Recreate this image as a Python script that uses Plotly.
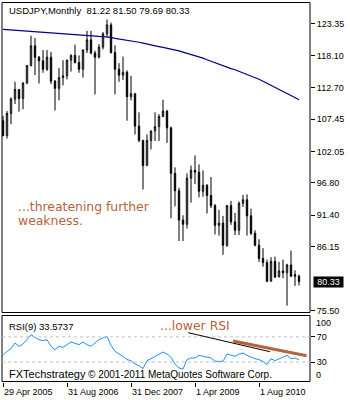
import plotly.graph_objects as go

months = [
    "2005-04","2005-05","2005-06","2005-07","2005-08","2005-09","2005-10","2005-11","2005-12",
    "2006-01","2006-02","2006-03","2006-04","2006-05","2006-06","2006-07","2006-08","2006-09","2006-10","2006-11","2006-12",
    "2007-01","2007-02","2007-03","2007-04","2007-05","2007-06","2007-07","2007-08","2007-09","2007-10","2007-11","2007-12",
    "2008-01","2008-02","2008-03","2008-04","2008-05","2008-06","2008-07","2008-08","2008-09","2008-10","2008-11","2008-12",
    "2009-01","2009-02","2009-03","2009-04","2009-05","2009-06","2009-07","2009-08","2009-09","2009-10","2009-11","2009-12",
    "2010-01","2010-02","2010-03","2010-04","2010-05","2010-06","2010-07","2010-08","2010-09","2010-10","2010-11","2010-12",
    "2011-01","2011-02","2011-03","2011-04","2011-05","2011-06",
]

opens = [107.2, 104.7, 108.4, 110.8, 112.4, 110.9, 113.5, 116.4, 119.7,
         117.8, 117.2, 115.8, 117.8, 113.8, 112.6, 114.4, 114.7, 117.3, 118.1, 116.9, 115.8,
         119.0, 120.7, 118.5, 117.8, 119.5, 121.7, 123.2, 118.6, 115.8, 114.8, 115.3, 111.2,
         111.7, 106.3, 103.9, 99.7, 103.9, 105.5, 106.2, 107.9, 108.8, 106.0, 98.4, 95.5,
         90.6, 89.9, 97.6, 98.9, 98.6, 95.4, 96.4, 94.7, 93.0, 89.7, 90.1, 86.4,
         93.0, 90.3, 88.9, 93.4, 94.0, 91.3, 88.4, 86.4, 84.2, 83.5, 80.4, 83.7,
         81.1, 82.1, 81.8, 83.1, 81.5, 81.22]
highs = [108.0, 108.8, 111.1, 113.7, 112.5, 113.6, 116.5, 121.4, 121.0,
         118.0, 119.0, 119.0, 118.7, 114.0, 116.0, 117.3, 117.4, 118.3, 119.9, 118.1, 119.1,
         122.2, 122.2, 118.9, 120.0, 122.0, 124.1, 123.6, 119.8, 116.8, 117.9, 115.6, 114.7,
         111.8, 108.6, 104.0, 104.9, 105.5, 108.6, 108.3, 110.7, 109.0, 106.2, 99.4, 96.0,
         91.4, 98.4, 99.7, 101.4, 99.9, 98.9, 96.6, 97.8, 93.3, 92.3, 91.3, 93.1,
         93.8, 91.8, 93.7, 94.8, 94.9, 92.5, 88.9, 87.4, 85.9, 84.0, 84.4, 84.5,
         83.6, 84.0, 83.3, 85.5, 82.2, 81.50]
lows = [104.6, 104.2, 106.6, 110.0, 108.7, 109.1, 113.3, 116.3, 114.8,
        113.4, 115.2, 115.5, 113.3, 108.9, 110.6, 113.1, 114.1, 115.4, 116.8, 115.2, 114.4,
        118.5, 118.3, 111.6, 117.6, 119.1, 121.2, 118.4, 111.6, 113.7, 114.0, 107.2, 110.6,
        104.9, 103.6, 95.7, 99.7, 102.4, 103.8, 103.8, 107.8, 103.5, 90.9, 92.9, 87.1,
        87.1, 89.2, 93.5, 96.6, 94.4, 94.5, 91.7, 92.6, 88.2, 88.0, 84.8, 86.1,
        89.8, 88.1, 88.1, 92.8, 88.0, 88.1, 86.2, 83.6, 82.8, 80.2, 80.3, 80.9,
        81.1, 80.9, 76.3, 81.3, 79.6, 79.69]
closes = [104.7, 108.4, 110.8, 112.4, 110.9, 113.5, 116.4, 119.7, 117.8,
          117.2, 115.8, 117.8, 113.8, 112.6, 114.4, 114.7, 117.3, 118.1, 116.9, 115.8, 119.0,
          120.7, 118.5, 117.8, 119.5, 121.7, 123.2, 118.6, 115.8, 114.8, 115.3, 111.2, 111.7,
          106.3, 103.9, 99.7, 103.9, 105.5, 106.2, 107.9, 108.8, 106.0, 98.4, 95.5, 90.6,
          89.9, 97.6, 98.9, 98.6, 95.4, 96.4, 94.7, 93.0, 89.7, 90.1, 86.4, 93.0,
          90.3, 88.9, 93.4, 94.0, 91.3, 88.4, 86.4, 84.2, 83.5, 80.4, 83.7, 81.1,
          82.1, 81.8, 83.1, 81.2, 81.2, 80.33]

ma_values = [122.45, 122.40, 122.35, 122.28, 122.22, 122.15, 122.08, 122.02, 121.98,
             121.94, 121.90, 121.86, 121.83, 121.80, 121.78, 121.72, 121.66, 121.60, 121.55, 121.50, 121.45,
             121.40, 121.36, 121.32, 121.28, 121.25, 121.22, 121.10, 120.95, 120.85, 120.75, 120.68, 120.58,
             120.45, 120.30, 120.15, 119.98, 119.82, 119.70, 119.58, 119.45, 119.32, 119.18, 119.02, 118.85,
             118.65, 118.45, 118.30, 118.15, 117.92, 117.65, 117.38, 117.12, 116.85, 116.58, 116.30, 116.10,
             115.90, 115.70, 115.45, 115.22, 114.95, 114.70, 114.42, 114.12, 113.80, 113.48, 113.15, 112.82,
             112.48, 112.10, 111.75, 111.40, 111.02, 110.70]

rsi_values = [40.7, 47.1, 51.3, 60.3, 55.0, 58.7, 65.6, 73.5, 69.3,
              65.6, 64.0, 65.6, 55.0, 49.7, 55.0, 53.4, 57.7, 61.9, 59.8, 57.7, 61.9,
              57.7, 55.0, 60.3, 65.6, 68.3, 70.9, 56.6, 47.1, 42.9, 39.2, 33.9, 32.3,
              27.0, 24.3, 19.6, 32.3, 35.4, 39.2, 41.8, 46.0, 42.9, 37.6, 27.0, 20.6,
              19.0, 33.9, 36.5, 36.5, 40.7, 39.2, 37.6, 36.5, 31.2, 31.2, 31.2, 42.9,
              40.7, 39.2, 42.9, 44.4, 40.7, 37.6, 35.4, 33.9, 31.2, 25.9, 35.4, 32.3,
              35.4, 37.6, 40.7, 35.4, 36.5, 33.57]

price_ticks = [123.35, 118.10, 112.70, 107.45, 102.05, 96.80, 91.40, 86.15, 75.50]
rsi_ticks = [70, 30]
rsi_levels = [70, 30]
date_tick_pos = ["2005-04", "2006-08", "2007-12", "2009-04", "2010-08"]
date_tick_text = ["29 Apr 2005", "31 Aug 2006", "31 Dec 2007", "1 Apr 2009", "1 Aug 2010"]

# trendlines on RSI (bar index, RSI value)
black_trend_x = [46.3, 66.75]
black_trend_y = [76.7, 46.5]
brown_trend_x = [57.5, 75.9]
brown_trend_y = [63.5, 40.2]

last_price = 80.33
BROWN = "#B4643A"
W, H = 350, 400
ML, MR, MT, MB = 2, 40, 2, 18
PH = H - MT - MB  # 380


def py(p):  # pixel y -> paper
    return (H - MB - p) / PH


def px(p):
    return (p - ML) / (W - ML - MR)


fig = go.Figure()
fig.add_trace(go.Candlestick(
    x=months, open=opens, high=highs, low=lows, close=closes,
    increasing=dict(line=dict(color="black", width=1), fillcolor="white"),
    decreasing=dict(line=dict(color="black", width=1), fillcolor="black"),
    whiskerwidth=0, xaxis="x", yaxis="y", showlegend=False, hoverinfo="skip",
))
fig.add_trace(go.Scatter(x=months, y=ma_values, mode="lines",
                         line=dict(color="#00008B", width=1.2), xaxis="x", yaxis="y",
                         showlegend=False, hoverinfo="skip"))
fig.add_trace(go.Scatter(x=months, y=rsi_values, mode="lines",
                         line=dict(color="#1E90FF", width=1), xaxis="x", yaxis="y2",
                         showlegend=False, hoverinfo="skip"))

shapes = []
# frames
shapes.append(dict(type="rect", xref="paper", yref="paper", x0=0, x1=1,
                   y0=py(312.5), y1=py(2.5), line=dict(color="black", width=1)))
shapes.append(dict(type="rect", xref="paper", yref="paper", x0=0, x1=1,
                   y0=py(381.5), y1=py(315.5), line=dict(color="black", width=1)))
for lv in rsi_levels:
    shapes.append(dict(type="line", xref="paper", yref="y2", x0=0, x1=1, y0=lv, y1=lv,
                       line=dict(color="#C0C0C0", width=1, dash="3px,3px")))
shapes.append(dict(type="line", xref="x", yref="y2", x0=black_trend_x[0], x1=black_trend_x[1],
                   y0=black_trend_y[0], y1=black_trend_y[1], line=dict(color="black", width=1)))
shapes.append(dict(type="line", xref="x", yref="y2", x0=brown_trend_x[0], x1=brown_trend_x[1],
                   y0=brown_trend_y[0], y1=brown_trend_y[1], line=dict(color=BROWN, width=3)))

ann = []
small = dict(family="Liberation Sans, Arial, sans-serif", size=9.5, color="black")
ann.append(dict(xref="paper", yref="paper", x=px(7), y=py(10.7), xanchor="left", yanchor="middle",
                text="USDJPY,Monthly  81.22 81.50 79.69 80.33", showarrow=False, font=small))
ann.append(dict(xref="paper", yref="paper", x=px(7), y=py(326), xanchor="left", yanchor="middle",
                text="RSI(9) 33.5737", showarrow=False, font=small))
note_font = dict(family="DejaVu Sans, sans-serif", size=12.4, color=BROWN)
ann.append(dict(xref="paper", yref="paper", x=px(16), y=py(206.7), xanchor="left", yanchor="middle",
                text="...threatening further", showarrow=False, font=note_font))
ann.append(dict(xref="paper", yref="paper", x=px(16), y=py(220.7), xanchor="left", yanchor="middle",
                text="weakness.", showarrow=False, font=note_font))
ann.append(dict(xref="paper", yref="paper", x=px(158), y=py(325.3), xanchor="left", yanchor="middle",
                text="...lower RSI", showarrow=False, font=note_font))
ann.append(dict(xref="paper", yref="paper", x=px(6.5), y=py(373.5), xanchor="left", yanchor="middle",
                text="FXTechstrategy", showarrow=False,
                font=dict(family="Liberation Sans, Arial, sans-serif", size=11, color="black")))
ann.append(dict(xref="paper", yref="paper", x=px(86), y=py(374), xanchor="left", yanchor="middle",
                text="© 2001-2011 MetaQuotes Software Corp.", showarrow=False,
                font=dict(family="Liberation Sans, Arial, sans-serif", size=10, color="black")))
for pos, txt in zip(date_tick_pos, date_tick_text):
    ann.append(dict(xref="x", yref="paper", x=pos, y=py(391.7), xanchor="left", yanchor="middle",
                    xshift=-1, text=txt, showarrow=False,
                    font=dict(family="Liberation Sans, Arial, sans-serif", size=9, color="black")))
ann.append(dict(xref="paper", yref="y2", x=1, y=100, xanchor="left", yanchor="middle", xshift=4, yshift=-5,
                text="100", showarrow=False,
                font=dict(family="Liberation Sans, Arial, sans-serif", size=9, color="black")))
ann.append(dict(xref="paper", yref="y2", x=1, y=0, xanchor="left", yanchor="middle", xshift=4, yshift=6,
                text="0", showarrow=False,
                font=dict(family="Liberation Sans, Arial, sans-serif", size=9, color="black")))
ann.append(dict(xref="paper", yref="y", x=1, y=last_price, xanchor="left", yanchor="middle", xshift=3,
                text=f"{last_price:.2f}", showarrow=False, bgcolor="black", borderpad=0,
                width=29, height=10,
                font=dict(family="Liberation Sans, Arial, sans-serif", size=9, color="white")))

fig.update_layout(
    width=W, height=H, margin=dict(l=ML, r=MR, t=MT, b=MB),
    paper_bgcolor="white", plot_bgcolor="white",
    boxgap=0.5,
    xaxis=dict(type="category", range=[-0.25, 76.75], anchor="y2", rangeslider=dict(visible=False),
               showgrid=False, zeroline=False, showline=False,
               tickmode="array", tickvals=date_tick_pos, ticktext=[""] * len(date_tick_pos),
               ticks="outside", ticklen=4, tickcolor="black", tickwidth=1, showticklabels=False),
    yaxis=dict(domain=[py(312.5), py(2.5)], range=[75.16, 126.94], side="right", anchor="x",
               showgrid=False, zeroline=False, showline=False,
               tickmode="array", tickvals=price_ticks, ticktext=[f"{v:.2f}" for v in price_ticks],
               ticks="outside", ticklen=4, tickcolor="black",
               tickfont=dict(family="Liberation Sans, Arial, sans-serif", size=9, color="black")),
    yaxis2=dict(domain=[py(381.7), py(315.7)], range=[-1.11, 103.65], side="right", anchor="x",
                showgrid=False, zeroline=False, showline=False,
                tickmode="array", tickvals=rsi_ticks, ticktext=[str(v) for v in rsi_ticks],
                ticks="outside", ticklen=4, tickcolor="black",
                tickfont=dict(family="Liberation Sans, Arial, sans-serif", size=9, color="black")),
    shapes=shapes, annotations=ann,
)

fig.write_html("out.html")
